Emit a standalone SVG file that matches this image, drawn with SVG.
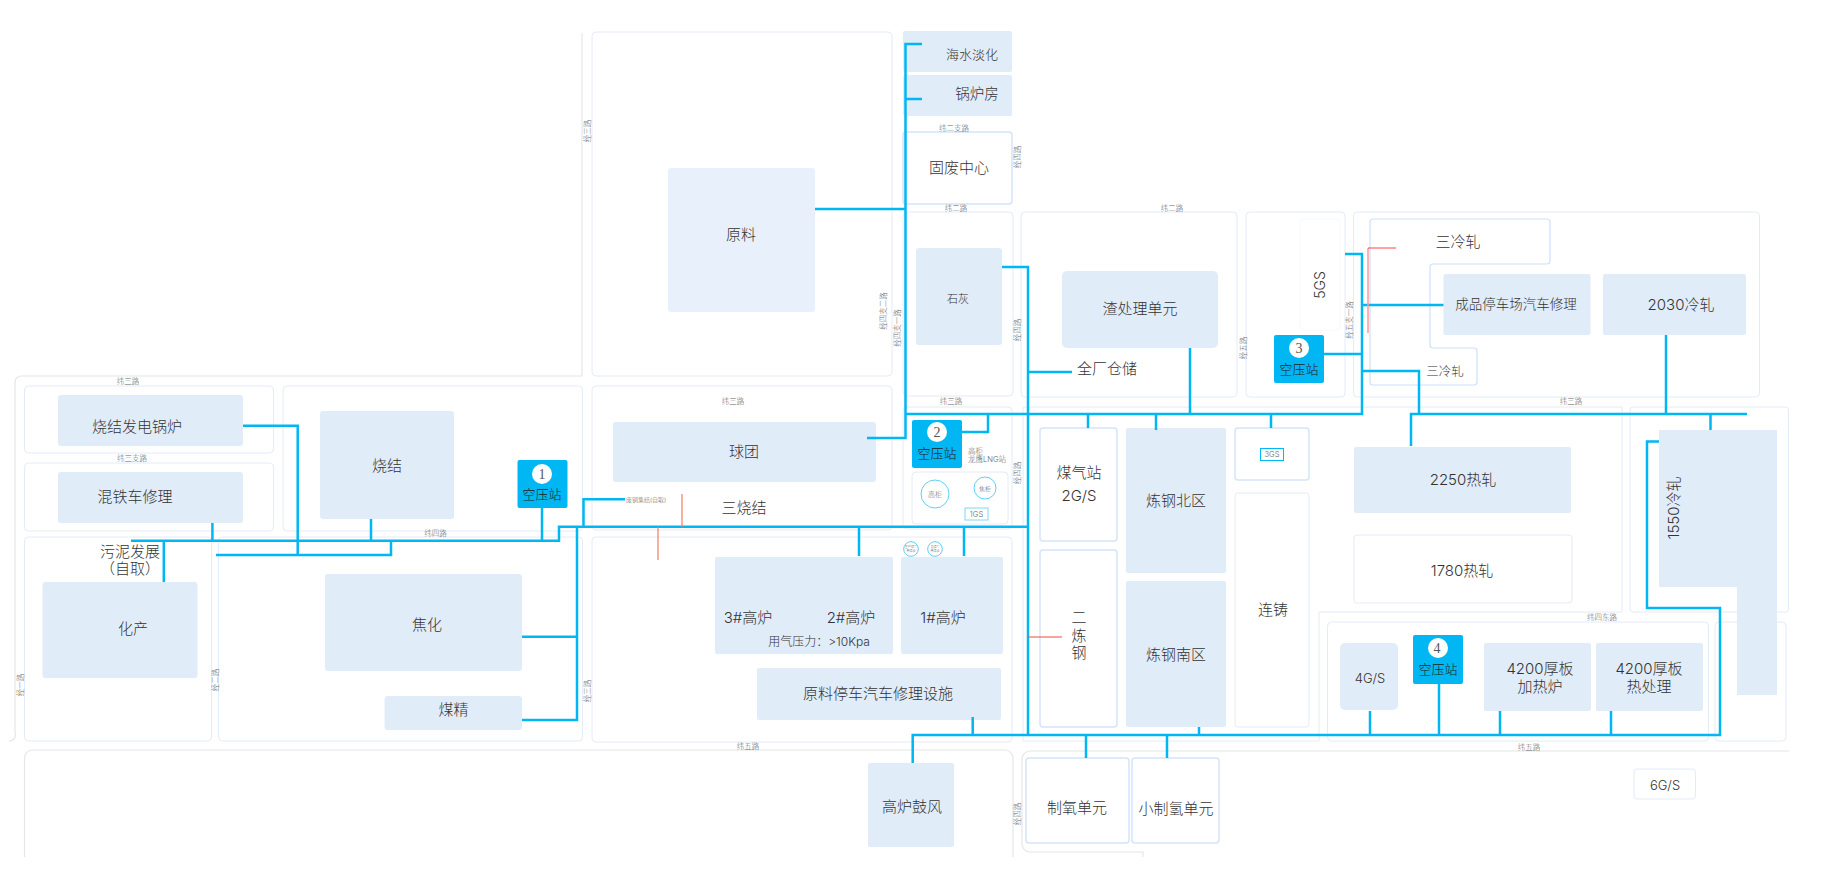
<svg xmlns="http://www.w3.org/2000/svg" width="1824" height="870" viewBox="0 0 1824 870">
<style>
text{font-family:"Inter","Noto Sans CJK SC","Noto Sans",sans-serif;font-weight:300;fill:#333;text-anchor:middle;dominant-baseline:central}
.c{fill:#fff;stroke:#e4ecf8;stroke-width:1}
.o{fill:#fff;stroke:#d5e4f9;stroke-width:1.5}
.p{fill:#e1ecf9}
.r{fill:none;stroke:#e6e6e6;stroke-width:1.2}
.k{fill:none;stroke:#00b7f3;stroke-width:2.5}
.red{fill:none;stroke:#f47b6b;stroke-width:1.2}
.s{font-size:15px}
.m{font-size:13px}
.t{font-size:7.5px;fill:#666}
.st{fill:#00b7f3}
.num{font-family:"Liberation Serif",serif;font-size:14px;fill:#555}
.lbl{font-size:13px;fill:#222}
.dot{fill:#fff;stroke:#5fcff5}
</style>
<g id="roads">
<path class="r" d="M582 33V376H21a6 6 0 0 0-6 6V733a6 6 0 0 1-6 8"/>
<path class="r" d="M24.500 857V758a8 8 0 0 1 8-8H1005a8 8 0 0 1 8 8V857"/>
<path class="r" d="M1789 751H1030a8 8 0 0 0-8 8V844a8 8 0 0 0 8 8H1143V857"/>
</g>
<g id="areas">
<rect class="c" x="24.500" y="386" width="249" height="67" rx="4"/>
<rect class="c" x="24.500" y="463" width="249" height="68" rx="4"/>
<rect class="c" x="24.500" y="537" width="187" height="204" rx="4"/>
<rect class="c" x="218.500" y="537" width="364" height="204" rx="4"/>
<rect class="c" x="283" y="386" width="299.500" height="145" rx="4"/>
<rect class="c" x="592" y="32" width="300" height="344" rx="4"/>
<rect class="c" x="592" y="386" width="300" height="144" rx="4"/>
<rect class="c" x="592" y="537" width="420" height="205" rx="4"/>
<rect class="c" x="903" y="212" width="110" height="184" rx="4"/>
<rect class="c" x="903" y="407" width="109" height="122" rx="4"/>
<rect class="c" x="1021" y="212" width="216" height="185" rx="4"/>
<rect class="c" x="1246" y="212" width="99" height="185" rx="4"/>
<rect class="c" x="1353.500" y="212" width="406" height="185" rx="4"/>
<path class="c" d="M1023 407H1622V612H1319V741H1023Z"/>
<rect class="c" x="1630" y="407" width="158.500" height="205" rx="3"/>
<rect class="c" x="1327.500" y="622" width="381" height="119" rx="4"/>
<rect class="c" x="1715" y="622" width="71" height="119" rx="4"/>
</g>
<g id="n-yuanliao"><rect x="668" y="168" width="147" height="144" rx="3" fill="#e8f1fb"/><text class="s" x="741" y="234">原料</text></g>
<g id="n-fadian"><rect class="p" x="58" y="395" width="185" height="51" rx="3"/><text class="s" x="137" y="426">烧结发电锅炉</text></g>
<g id="n-hunzhi"><rect class="p" x="58" y="472" width="185" height="51" rx="3"/><text class="s" x="135" y="496">混铁车修理</text></g>
<g id="n-shaojie"><rect class="p" x="320" y="411" width="134" height="108" rx="3"/><text class="s" x="387" y="465">烧结</text></g>
<g id="n-huachan"><rect class="p" x="42.500" y="582" width="155" height="96" rx="3"/><text class="s" x="133" y="628">化产</text></g>
<g id="n-jiaohua"><rect class="p" x="325" y="574" width="197" height="97" rx="3"/><text class="s" x="427" y="624">焦化</text></g>
<g id="n-meijing"><rect class="p" x="384.600" y="696" width="137.400" height="34" rx="3"/><text class="s" x="453.500" y="709">煤精</text></g>
<g id="n-wuni"><text class="s" y="551"><tspan x="130">污泥发展</tspan><tspan x="130" dy="17">（自取）</tspan></text></g>
<g id="n-qiutuan"><rect class="p" x="613" y="422" width="263" height="60" rx="3"/><text class="s" x="744" y="451">球团</text></g>
<g id="n-sanshaojie"><text class="s" x="744" y="507">三烧结</text></g>
<g id="n-gaolu32"><rect class="p" x="715" y="557" width="178" height="97" rx="2"/><text class="s" x="748" y="617">3#高炉</text><text class="s" x="851" y="617">2#高炉</text><text font-size="12" x="819" y="641">用气压力：&gt;10Kpa</text></g>
<g id="n-gaolu1"><rect class="p" x="901" y="557" width="102" height="97" rx="2"/><text class="s" x="943" y="617">1#高炉</text></g>
<g id="n-tingche"><rect class="p" x="757" y="668" width="244" height="52" rx="2"/><text class="s" x="878" y="693">原料停车汽车修理设施</text></g>
<g id="n-haishui"><rect class="p" x="903" y="31" width="109" height="41" rx="2"/><text class="m" x="972" y="54">海水淡化</text></g>
<g id="n-guolu"><rect class="p" x="903" y="75" width="109" height="41" rx="2"/><text x="977" y="93" style="font-size:14.500px">锅炉房</text></g>
<g id="n-gufei"><rect class="o" x="903" y="132" width="109" height="72" rx="3"/><text class="s" x="959" y="167">固废中心</text></g>
<g id="n-shihui"><rect class="p" x="916" y="248" width="86" height="97" rx="3"/><text font-size="11" x="958" y="299">石灰</text></g>
<g id="n-zha"><rect class="p" x="1062" y="271" width="156" height="77" rx="5"/><text class="s" x="1140" y="308">渣处理单元</text></g>
<g id="n-cangchu"><text class="s" x="1107" y="368">全厂仓储</text></g>
<g id="n-5gs"><rect fill="#fff" stroke="#f6f8fb" x="1300" y="219" width="40" height="111" rx="3"/><text transform="translate(1319 285) rotate(-90)" style="font-size:14px">5GS</text></g>
<g id="n-sanleng"><path fill="#fff" stroke="#cfe0f7" stroke-width="1.2" d="M1373 219H1547a3 3 0 0 1 3 3V261a3 3 0 0 1-3 3H1433a3 3 0 0 0-3 3V345a3 3 0 0 0 3 3H1474a3 3 0 0 1 3 3V382a3 3 0 0 1-3 3H1373a3 3 0 0 1-3-3V222a3 3 0 0 1 3-3Z"/><text class="s" x="1458" y="241">三冷轧</text><text font-size="12.500" x="1445" y="371">三冷轧</text></g>
<g id="n-chengpin"><rect class="p" x="1443.500" y="274" width="147" height="61" rx="2"/><text font-size="13.500" x="1516" y="304">成品停车场汽车修理</text></g>
<g id="n-2030"><rect class="p" x="1603" y="274" width="143" height="61" rx="2"/><text class="s" x="1681" y="304">2030冷轧</text></g>
<g id="n-2250"><rect class="p" x="1354" y="447" width="217" height="66" rx="2"/><text class="s" x="1463" y="479">2250热轧</text></g>
<g id="n-1780"><rect class="c" x="1354" y="535" width="218" height="68" rx="3"/><text class="s" x="1462" y="570">1780热轧</text></g>
<g id="n-1550"><path class="p" d="M1659 430H1777V695H1737V587H1659Z"/><text class="s" transform="translate(1673 508) rotate(-90)">1550冷轧</text></g>
<g id="n-meiqi"><rect class="o" x="1040" y="428" width="77" height="113" rx="3"/><text class="s" x="1079" y="472">煤气站</text><text class="s" x="1079" y="495">2G/S</text></g>
<g id="n-erlian"><rect class="o" x="1040" y="550" width="77" height="177" rx="3"/><text class="s" y="617"><tspan x="1079">二</tspan><tspan x="1079" dy="17.500">炼</tspan><tspan x="1079" dy="17.500">钢</tspan></text></g>
<g id="n-beiqu"><rect class="p" x="1126" y="428" width="100" height="145" rx="2"/><text class="s" x="1176" y="500">炼钢北区</text></g>
<g id="n-nanqu"><rect class="p" x="1126" y="581" width="100" height="146" rx="2"/><text class="s" x="1176" y="654">炼钢南区</text></g>
<g id="n-3gs"><rect class="o" x="1235" y="428" width="74" height="52" rx="3"/><rect fill="#fff" stroke="#00b7f3" x="1260.500" y="448.500" width="23" height="12"/><text class="t" x="1272" y="454">3GS</text></g>
<g id="n-lianzhu"><rect class="c" x="1235" y="493" width="74" height="234" rx="3"/><text class="s" x="1273" y="609">连铸</text></g>
<g id="n-4gs"><rect class="p" x="1340" y="643" width="58" height="67" rx="5"/><text class="m" x="1370" y="678">4G/S</text></g>
<g id="n-jiare"><rect class="p" x="1484" y="643" width="107" height="68" rx="2"/><text class="s" y="668"><tspan x="1540">4200厚板</tspan><tspan x="1540" dy="18">加热炉</tspan></text></g>
<g id="n-rechuli"><rect class="p" x="1596" y="643" width="107" height="68" rx="2"/><text class="s" y="668"><tspan x="1649">4200厚板</tspan><tspan x="1649" dy="17.500">热处理</tspan></text></g>
<g id="n-6gs"><rect class="c" x="1634" y="769" width="61.500" height="30" rx="3"/><text class="m" x="1665" y="785">6G/S</text></g>
<g id="n-gufeng"><rect class="p" x="868" y="763" width="86" height="84" rx="2"/><text class="s" x="912" y="806">高炉鼓风</text></g>
<g id="n-zhiyang"><rect class="o" x="1026" y="758" width="103" height="85" rx="3"/><text class="s" x="1077" y="807">制氧单元</text></g>
<g id="n-zhiqing"><rect class="o" x="1132" y="758" width="87" height="85" rx="3"/><text class="s" x="1176" y="808">小制氢单元</text></g>
<g id="n-lng"><rect class="c" x="912" y="472" width="96" height="52" rx="4"/><circle class="dot" cx="935" cy="494" r="14"/><text class="t" x="935" y="494" style="font-size:7px">高柜</text><circle class="dot" cx="985" cy="488" r="11"/><text class="t" x="985" y="488" style="font-size:6px">焦柜</text><rect fill="#fff" stroke="#7fd7f5" x="965" y="508" width="23" height="12"/><text class="t" x="976.500" y="514">1GS</text><text class="t" x="968" y="451" style="text-anchor:start">高柜</text><text class="t" x="968" y="459" style="text-anchor:start">龙鹰LNG站</text></g>
<g id="n-small"><circle class="dot" cx="911" cy="549" r="7.300"/><text class="t" y="547" style="font-size:3px"><tspan x="911">生产煤气</tspan><tspan x="911" dy="4">用煤点</tspan></text><circle class="dot" cx="935" cy="549" r="7.300"/><text class="t" y="547" style="font-size:3px"><tspan x="935">混煤气</tspan><tspan x="935" dy="4">用煤点</tspan></text></g>
<g id="n-kya1"><rect class="st" x="517.500" y="460" width="50" height="48" rx="2"/><circle cx="542" cy="474" r="10" fill="#fff"/><text class="num" x="542" y="474">1</text><text class="lbl" x="542" y="494">空压站</text></g>
<g id="n-kya2"><rect class="st" x="912" y="420" width="50" height="48" rx="2"/><circle cx="937" cy="432" r="10" fill="#fff"/><text class="num" x="937" y="432">2</text><text class="lbl" x="937" y="453">空压站</text></g>
<g id="n-kya3"><rect class="st" x="1274" y="335" width="50" height="48" rx="2"/><circle cx="1299" cy="348" r="10" fill="#fff"/><text class="num" x="1299" y="348">3</text><text class="lbl" x="1299" y="369">空压站</text></g>
<g id="n-kya4"><rect class="st" x="1413" y="635" width="50" height="49" rx="2"/><circle cx="1438" cy="648" r="10" fill="#fff"/><text class="num" x="1437" y="648">4</text><text class="lbl" x="1438" y="669">空压站</text></g>
<g id="road-labels">
<text class="t" x="128" y="381">纬三路</text>
<text class="t" x="132" y="458">纬三支路</text>
<text class="t" x="435.500" y="533">纬四路</text>
<text class="t" x="733" y="401">纬三路</text>
<text class="t" x="951" y="401">纬三路</text>
<text class="t" x="1571" y="401">纬三路</text>
<text class="t" x="954" y="128">纬二支路</text>
<text class="t" x="956" y="208">纬二路</text>
<text class="t" x="1172" y="208">纬二路</text>
<text class="t" x="748" y="746">纬五路</text>
<text class="t" x="1529" y="747">纬五路</text>
<text class="t" x="1602" y="617">纬四东路</text>
<text class="t" transform="translate(20 685) rotate(-90)">经一路</text>
<text class="t" transform="translate(215 680) rotate(-90)">经二路</text>
<text class="t" transform="translate(587 691) rotate(-90)">经三路</text>
<text class="t" transform="translate(587 131) rotate(-90)">经三路</text>
<text class="t" transform="translate(883 311) rotate(-90)">经四支二路</text>
<text class="t" transform="translate(897 328) rotate(-90)">经四支一路</text>
<text class="t" transform="translate(1017 157) rotate(-90)">经四路</text>
<text class="t" transform="translate(1017 330) rotate(-90)">经四路</text>
<text class="t" transform="translate(1017 473) rotate(-90)">经四路</text>
<text class="t" transform="translate(1017 814) rotate(-90)">经四路</text>
<text class="t" transform="translate(1243 348) rotate(-90)">经五路</text>
<text class="t" transform="translate(1349 320) rotate(-90)">经五支一路</text>
<text class="t" x="626" y="499.500" style="text-anchor:start;font-size:6px">废钢集结(自取)</text>
</g>
<g id="connectors">
<path class="k" d="M131 540.700H559V526.700H1028"/>
<path class="k" d="M243 425.700H297.700V555"/>
<path class="k" d="M216 555H391V540.700"/>
<path class="k" d="M212.400 523V540.700"/>
<path class="k" d="M163.800 540.700V582"/>
<path class="k" d="M371 519V540.700"/>
<path class="k" d="M542 508V540.700"/>
<path class="k" d="M577 526.700V720H522M522 636.700H577"/>
<path class="k" d="M583.500 526.700V499.300H625"/>
<path class="k" d="M867 438H905.500V44H922M905.500 99H922M815 209H905.500"/>
<path class="k" d="M905.500 414H1362V254H1345M1324 354H1362M1362 305H1443.500M1362 371H1419V414"/>
<path class="k" d="M1411 446V414H1747M1666 335V414M1710.500 414V430"/>
<path class="k" d="M962 432H988V414"/>
<path class="k" d="M1002 267H1028V735M1028 372H1072"/>
<path class="k" d="M1190 348V414"/>
<path class="k" d="M1088 414V428M1156 414V430M1271 414V428"/>
<path class="k" d="M859 527V556M964 527V556"/>
<path class="k" d="M912.700 763V735H1720V608H1647V441.600H1659"/>
<path class="k" d="M972.700 717V735M1199 727V735M1086 735V758M1167 735V758M1370 711V735M1439 684V735M1500 711V735M1611 711V735"/>
<path class="red" d="M682 494V527M658 527V560"/>
<path fill="none" stroke="#e8503a" d="M1028 637H1062"/>
<path class="red" d="M1368 248V333" style="stroke:#f99;stroke-width:1.500"/>
<path fill="none" stroke="#f44" d="M1368 248H1396"/>
</g>
</svg>
